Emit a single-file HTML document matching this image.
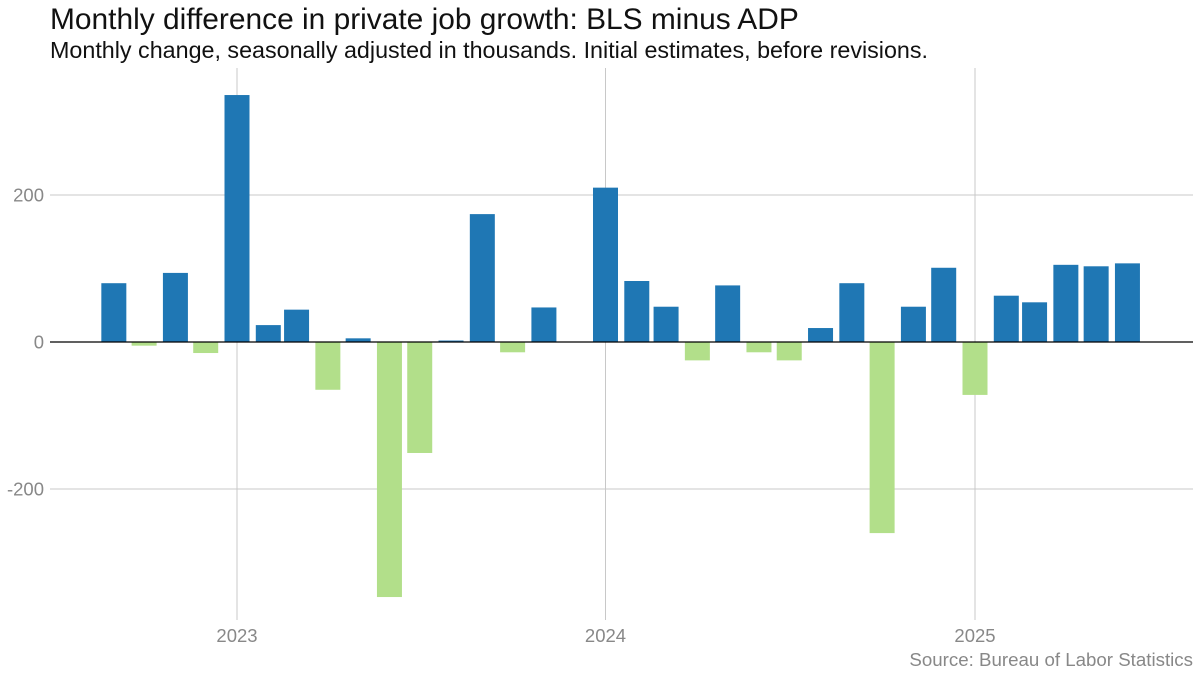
<!DOCTYPE html>
<html><head><meta charset="utf-8"><style>
body{margin:0;background:#fff;font-family:"Liberation Sans",sans-serif}
svg{display:block}
</style></head><body>
<svg id="c" width="1200" height="676" xmlns="http://www.w3.org/2000/svg">
<text x="50" y="29" font-size="29.9" fill="#111">Monthly difference in private job growth: BLS minus ADP</text>
<text x="50" y="58" font-size="23.3" fill="#111">Monthly change, seasonally adjusted in thousands. Initial estimates, before revisions.</text>
<g id="grid"></g><g id="bars"></g><g id="axes"></g>
<text x="1193" y="666" font-size="18.7" fill="#888" text-anchor="end">Source: Bureau of Labor Statistics</text>
</svg>
<script>
const months = ["2022-09","2022-10","2022-11","2022-12","2023-01","2023-02","2023-03","2023-04","2023-05","2023-06","2023-07","2023-08","2023-09","2023-10","2023-11","2023-12","2024-01","2024-02","2024-03","2024-04","2024-05","2024-06","2024-07","2024-08","2024-09","2024-10","2024-11","2024-12","2025-01","2025-02","2025-03","2025-04","2025-05","2025-06"];
const values = [80,-5,94,-15,336,23,44,-65,5,-347,-151,2,174,-14,47,0,210,83,48,-25,77,-14,-25,19,80,-260,48,101,-72,63,54,105,103,107];
const yTicks = [-200,0,200];
const yTickLabels = ["-200","0","200"];
const xTicks = ["2023-01-01","2024-01-01","2025-01-01"];
const xTickLabels = ["2023","2024","2025"];
const NS="http://www.w3.org/2000/svg";
const t0=Date.UTC(2023,0,1), t1=Date.UTC(2025,0,1);
function x(d){const t=Date.parse(d+"T00:00:00Z");return 237+(t-t0)/(t1-t0)*(975-237);}
function y(v){return 342-v*0.735;}
function mk(tag,attrs,parent){const e=document.createElementNS(NS,tag);for(const k in attrs)e.setAttribute(k,attrs[k]);document.getElementById(parent).appendChild(e);return e;}
yTicks.forEach((v,i)=>{
  if(v!==0){const l=mk("line",{x1:50,x2:1193,y1:y(v),y2:y(v),stroke:"#c8c8c8","stroke-width":1},"grid");
  
  }
  const t=mk("text",{x:44,y:y(v)+6.5,"font-size":18.5,fill:"#888","text-anchor":"end"},"axes");
  t.textContent=yTickLabels[i];
  
  
});
xTicks.forEach((d,i)=>{
  const l=mk("line",{x1:x(d),x2:x(d),y1:68,y2:620,stroke:"#c8c8c8","stroke-width":1},"grid");
  
  
  const t=mk("text",{x:x(d),y:642,"font-size":18.5,fill:"#888","text-anchor":"middle"},"axes");
  t.textContent=xTickLabels[i];
  
  
});
months.forEach((m,i)=>{
  const v=values[i];const cx=x(m+"-01");
  const r=mk("rect",{x:cx-12.5,width:25,y:Math.min(y(v),y(0)),height:Math.abs(y(v)-y(0)),fill:v>=0?"#1f77b4":"#b2df8a"},"bars");
  
  
});
const z=mk("line",{x1:50,x2:1193,y1:y(0),y2:y(0),stroke:"#000","stroke-width":1.2},"axes");


</script>
</body></html>
